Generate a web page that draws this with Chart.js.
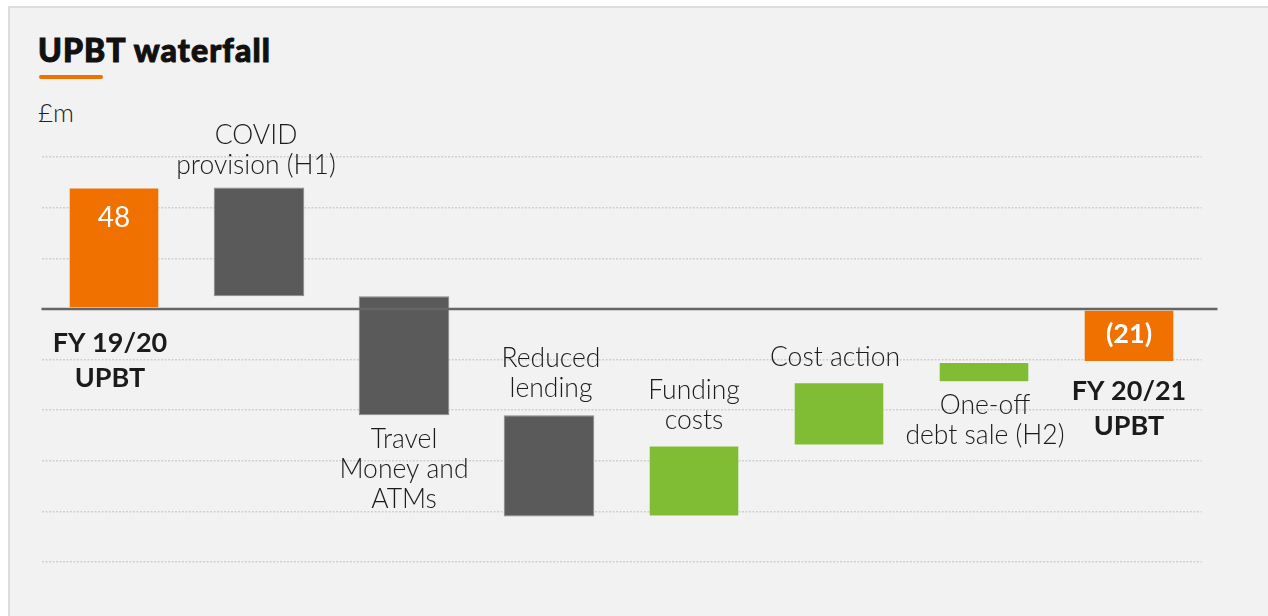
<!DOCTYPE html>
<html>
<head>
<meta charset="utf-8">
<title>UPBT waterfall</title>
<script src="https://cdn.jsdelivr.net/npm/chart.js@4"></script>
<style>
  html, body { margin: 0; padding: 0; background: #fff; }
  body { width: 1268px; height: 616px; position: relative; overflow: hidden; font-family: Lato, "Noto Sans", sans-serif; }
  .panel { position: absolute; left: 8px; top: 6px; right: -4px; bottom: -4px;
           background: #f2f2f2; border-left: 2px solid #dcdcdc; border-top: 2px solid #dcdcdc; }
  .title { position: absolute; left: 38px; top: 34px; font-size: 32px; line-height: 32px; font-weight: 900;
           letter-spacing: 1.1px; -webkit-text-stroke: 1px #111; color: #111; }
  .rule { position: absolute; left: 39px; top: 75px; width: 64px; height: 4px; border-radius: 2px; background: #f07000; }
  .unit { position: absolute; left: 38px; top: 99px; font-size: 26px; line-height: 26px; font-weight: 300; color: #222; }
  canvas { position: absolute; left: 0; top: 0; }
</style>
</head>
<body>
<div class="panel"></div>
<div class="title">UPBT waterfall</div>
<div class="rule"></div>
<div class="unit">£m</div>
<canvas id="chart" width="1268" height="616"></canvas>
<script>
"use strict";

// £m, first and last entries are totals, the rest are movements
const categories = ["FY 19/20 UPBT", "COVID provision (H1)", "Travel Money and ATMs", "Reduced lending",
                    "Funding costs", "Cost action", "One-off debt sale (H2)", "FY 20/21 UPBT"];
const steps      = [48, -43, -47, -40, 28, 25, 8, -21];
const kinds      = ["total", "down", "down", "down", "up", "up", "up", "total"];
const labelLines = [["FY 19/20", "UPBT"], ["COVID", "provision (H1)"], ["Travel", "Money and", "ATMs"],
                    ["Reduced", "lending"], ["Funding", "costs"], ["Cost action"],
                    ["One-off", "debt sale (H2)"], ["FY 20/21", "UPBT"]];
const labelSide  = ["below", "above", "below", "above", "above", "above", "below", "below"];
const valueText  = ["48", "", "", "", "", "", "", "(21)"];
const yTicks     = [60, 40, 20, 0, -20, -40, -60, -80, -100];

const COL = { total: "#f07000", down: "#5a5a5a", up: "#80bd34" };

// floating [low, high] ranges built from the running total
const ranges = [];
let run = 0;
steps.forEach((v, i) => {
  if (kinds[i] === "total") {
    ranges.push([Math.min(0, v), Math.max(0, v)]);
    run = v;
  } else {
    const next = run + v;
    ranges.push([Math.min(run, next), Math.max(run, next)]);
    run = next;
  }
});

const FONT = "Lato, 'Noto Sans', sans-serif";

const waterfallLabels = {
  id: "waterfallLabels",
  afterDatasetsDraw(chart, args, opts) {
    const { ctx, chartArea, scales } = chart;
    const y0 = scales.y.getPixelForValue(0);

    // zero line runs a little past the plot on the right
    ctx.save();
    ctx.strokeStyle = "#666";
    ctx.lineWidth = 2.5;
    ctx.beginPath();
    ctx.moveTo(chartArea.left, y0);
    ctx.lineTo(chartArea.right + 16, y0);
    ctx.stroke();

    const bars = chart.getDatasetMeta(0).data;
    ctx.textAlign = "center";
    ctx.textBaseline = "middle";
    bars.forEach((bar, i) => {
      const bold = kinds[i] === "total";
      const lh = bold ? 35 : 30;
      ctx.font = (bold ? "bold 27px " : "300 26.5px ") + FONT;
      ctx.fillStyle = "#1b1b1b";
      const lines = labelLines[i];
      const top = Math.min(bar.y, bar.base);
      const bottom = Math.max(bar.y, bar.base);
      const gap = opts.gaps[i];
      const cx = bar.x + opts.shift[i];
      lines.forEach((t, k) => {
        const y = labelSide[i] === "above"
          ? top - gap - (lines.length - 1 - k) * lh
          : bottom + gap + k * lh;
        ctx.fillText(t, cx, y);
      });
      if (valueText[i]) {
        ctx.fillStyle = "#fff";
        ctx.font = (steps[i] < 0 ? "bold 27px " : "28px ") + FONT;
        ctx.fillText(valueText[i], bar.x, top + opts.valueGap[i]);
      }
    });
    ctx.restore();
  }
};

new Chart(document.getElementById("chart"), {
  type: "bar",
  data: {
    labels: categories,
    datasets: [{
      data: ranges,
      backgroundColor: kinds.map(k => COL[k]),
      borderColor: kinds.map(k => k === "down" ? "#8a8a8a" : "rgba(255,255,255,0.35)"),
      borderWidth: 1,
      borderSkipped: false,
      barPercentage: 1,
      categoryPercentage: 0.625
    }]
  },
  options: {
    responsive: false,
    animation: false,
    devicePixelRatio: 1,
    layout: { padding: { left: 41.5, right: 66.5, top: 157, bottom: 54 } },
    plugins: {
      legend: { display: false },
      tooltip: { enabled: false },
      waterfallLabels: {
        gaps: [35, 22, 24, 27, 25, 25, 23, 29],
        shift: [-4, -3, 0, 2, 0, -4, 1, 0],
        valueGap: [31, 0, 0, 0, 0, 0, 0, 25]
      }
    },
    scales: {
      x: { display: false },
      y: {
        min: -100, max: 60,
        afterBuildTicks: axis => { axis.ticks = yTicks.map(v => ({ value: v })); },
        ticks: { display: false },
        border: { display: false, dash: [2, 1.5] },
        grid: {
          drawTicks: false,
          lineWidth: 1.5,
          color: c => c.tick && c.tick.value === 0 ? "rgba(0,0,0,0)" : "#cfcfcf"
        }
      }
    }
  },
  plugins: [waterfallLabels]
});
</script>
</body>
</html>
